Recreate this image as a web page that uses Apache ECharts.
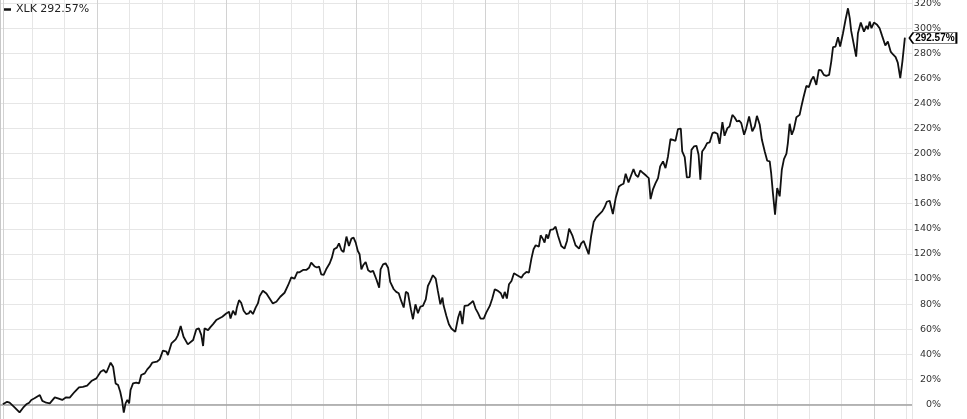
<!DOCTYPE html>
<html>
<head>
<meta charset="utf-8">
<script src="https://cdn.jsdelivr.net/npm/echarts@6/dist/echarts.min.js"></script>
<style>
html,body{margin:0;padding:0;background:#fff;}
#c{width:967px;height:419px;}
</style>
</head>
<body>
<div id="c"></div>
<script>
// Days since start of the window (quarterly grid = 91 days)
var days = [8,20,27,41,55,65,74,82,88,97,112,119,130,140,154,163,175,186,196,210,222,233,245,257,271,283,291,299,311,318,325,332,338,343,348,353,358,363,367,374,383,391,397,407,414,421,428,433,441,449,458,468,472,482,494,500,508,516,528,543,552,559,566,571,575,585,591,599,608,613,625,636,644,648,655,662,666,672,678,685,692,699,704,711,719,725,730,739,749,758,767,777,788,800,810,819,828,836,842,
852,861,869,875,885,891,897,903,910,917,927,933,939,947,953,960,966,974,981,988,994,1000,1006,1011,1016,1021,1028,1035,1042,1049,1058,1066,1070,1077,1084,1091,1097,1107,1114,1121,1128,1135,1141,1147,1155,1161,1168,1175,1182,1189,1197,1203,1210,1217,1225,1231,1238,1244,1247,1255,1262,1269,1274,1280,1288,1294,1300,1306,1316,1322,1330,1337,1344,1351,1360,1367,1377,1384,1391,1400,1408,1414,1419,1425,1431,1438,1445,1454,1466,1472,1480,1487,1494,1500,1506,1515,1520,1527,1531,1536,1541,1547,1555,1562,1569,1578,1587,1594,1600,1609,1618,1628,1634,1641,1648,1655,1662,1669,1676,
1686,1693,1700,1706,1714,1719,1723,1731,1740,1747,1753,1759,1767,1775,1781,1787,1794,1800,1808,1817,1824,1829,1836,1843,1850,1856,1864,1871,1878,1885,1892,1899,1906,1914,1918,1925,1931,1939,1944,1951,1958,1964,1969,1974,1981,1988,1995,2003,2009,2017,2023,2031,2037,2045,2051,2059,2065,2072,2078,2084,2092,2098,2106,2115,2122,2128,2136,2142,2150,2157,2164,2168,2173,2179,2185,2192,2198,2204,2211,2215,2220,2226,2232,2239,2248,2253,2259,2267,2274,2281,2287,2295,2302,2309,2316,2323,2331,2337,2342,2349,2356,2362,2370,2377,2384,2389,2393,2398,2407,2412,2420,2429,2436,2440,2445,2450,2457,2466,2473,2480,2489,2496,2504,2510,2518,2524,2531,2537,2544];

// Cumulative performance of XLK, percent
var pct = [0,2.0,1.3,-2.4,-6.4,-2.7,0,1.3,3.5,4.8,7.4,2.7,1.3,0.8,5.6,4.8,3.5,5.6,5.3,10,13.5,14,15,18.6,20.7,26,27.4,25.2,33.2,30,16.7,15.4,10,3.5,-6.6,0.8,3.5,0.8,11.4,16.7,17.3,16.7,23.4,24.7,27.9,30,33.2,31.9,34,35.9,42.8,42,39.3,48.6,51.8,55,62.4,53.9,47.8,51.3,59.8,60.6,55.2,46.5,60.6,59.2,61.4,64,67.2,65.9,69.9,72.5,73.8,68.5,74.6,71.2,77.3,83.1,81,74.6,72,72.5,74.6,72,77.3,80.5,86.3,90.6,88.4,84.5,80.5,81.8,85.8,89,95,101.2,100.3,105.4,105.3,
107.2,107.2,109,113,109.9,109.1,109.9,103.7,103.2,107.7,112.5,117,123.7,125,128.4,122.9,121.5,133.8,126.3,132.2,133,129,122.3,119.7,107.7,110.9,113.6,106.9,105.6,106.4,99.8,93.1,107.7,111.7,112.5,109,97.6,91.8,89.7,88.6,82.5,77.2,89.7,88.6,75.9,67.9,79.8,72.7,78,78.5,83.8,94.4,98.4,103,100.3,90.5,79.8,85.2,79,70.5,63.9,60.5,61.3,57.8,69.2,74.5,63.9,78.5,79,80.4,82.5,76.4,72.7,68.4,68.4,73.2,78.5,84.4,91.8,90.5,88.6,84.4,89.7,84.4,95.8,98.4,104.5,103,101,103.7,105.6,105,116.2,123.7,126.9,125.8,134.8,131.6,129,135.6,132.2,139.1,139.6,141.7,134.3,126.3,124.2,130.3,140.1,134.8,126.9,124.2,128.4,130.3,125,119.7,134.3,145.4,148.9,
152,153.9,157.4,161.6,162.4,161.9,151.8,164.5,173.8,175.2,176,184,177,183.1,187.6,183.1,181.3,186.6,184.5,182.3,180.5,163.7,171.7,176.5,180.5,189.8,193.8,188.4,197.7,211.6,211,210.2,219.5,220,201.7,197.2,181,181.3,203,205.7,206.2,199.1,179.2,201.7,204.4,208.4,208.9,216.3,216.9,215.8,207.8,225.1,214.2,220.3,221.6,230.9,229,225.6,226.4,224.3,215,220.3,229.6,217.7,221.6,230.1,223,211,201.7,194.3,193.8,184.5,168.5,151.3,172.5,165.9,187.1,195.6,199.9,208.4,223.8,215,219.5,229,230.9,237.6,245,254,253,258.8,261.5,254.8,266.8,266.3,262.8,262,262.8,273.4,284.9,285.4,292.8,285.4,296,306.6,315.9,308,297.9,297.3,277.4,296,304.5,297.3,301.9,299.2,305.3,300,304.5,302.7,300,293.9,286.2,289.4,281.4,279.3,276.9,272.6,260.2,273.4,292.57];

var seriesName = 'XLK';
var lastVal = pct[pct.length - 1];

var chart = echarts.init(document.getElementById('c'), null, {renderer: 'canvas'});
var data = days.map(function (d, i) { return [d, pct[i]]; });

chart.setOption({
  animation: false,
  backgroundColor: '#fff',
  grid: {left: 0, right: 55, top: -21.9, bottom: -10.4, containLabel: false, outerBoundsMode: 'none'},
  legend: {
    left: 1, top: 2, padding: [2, 2],
    icon: 'rect', itemWidth: 8, itemHeight: 2.5,
    data: [seriesName],
    formatter: function (n) { return n + ' ' + lastVal.toFixed(2) + '%'; },
    textStyle: {fontFamily: 'DejaVu Sans', fontSize: 11, color: '#222'}
  },
  xAxis: {
    type: 'value', min: 0, max: 2564, interval: 91,
    axisLine: {show: false}, axisTick: {show: false}, axisLabel: {show: false},
    splitLine: {show: true, lineStyle: {width: 1, color: ['#e6e6e6', '#e6e6e6', '#e6e6e6', '#d2d2d2']}}
  },
  yAxis: {
    type: 'value', position: 'right', min: -20, max: 340, interval: 20,
    axisLine: {show: true, lineStyle: {color: '#c8c8c8', width: 1}},
    axisTick: {show: false},
    axisLabel: {
      show: true, align: 'right', margin: 29,
      fontFamily: 'DejaVu Sans', fontSize: 9.5, color: '#333',
      formatter: '{value}%'
    },
    splitLine: {show: true, lineStyle: {color: '#e6e6e6', width: 1}}
  },
  series: [{
    name: seriesName,
    type: 'line',
    data: data,
    showSymbol: false,
    symbol: 'none',
    lineStyle: {color: '#111', width: 1.8},
    itemStyle: {color: '#111'},
    z: 5,
    markLine: {
      silent: true, symbol: 'none', label: {show: false},
      data: [
        {yAxis: 0, lineStyle: {color: '#a0a0a0', width: 1.5, type: 'solid'}},
        {xAxis: days[0], lineStyle: {color: '#d2d2d2', width: 1, type: 'solid'}}
      ]
    },
    markPoint: {
      silent: true,
      symbol: 'path://M0,5 L4,0 L48,0 L48,10 L4,10 Z',
      symbolSize: [47, 11],
      symbolKeepAspect: false,
      symbolOffset: [28, 0.5],
      itemStyle: {color: '#fff', borderColor: '#000', borderWidth: 1},
      label: {
        show: true, position: 'inside', offset: [2, 0],
        formatter: lastVal.toFixed(2) + '%',
        fontFamily: 'Liberation Sans', fontWeight: 'bold', fontSize: 10, color: '#000'
      },
      data: [{coord: [days[days.length - 1], lastVal]}]
    }
  }]
});
</script>
</body>
</html>
